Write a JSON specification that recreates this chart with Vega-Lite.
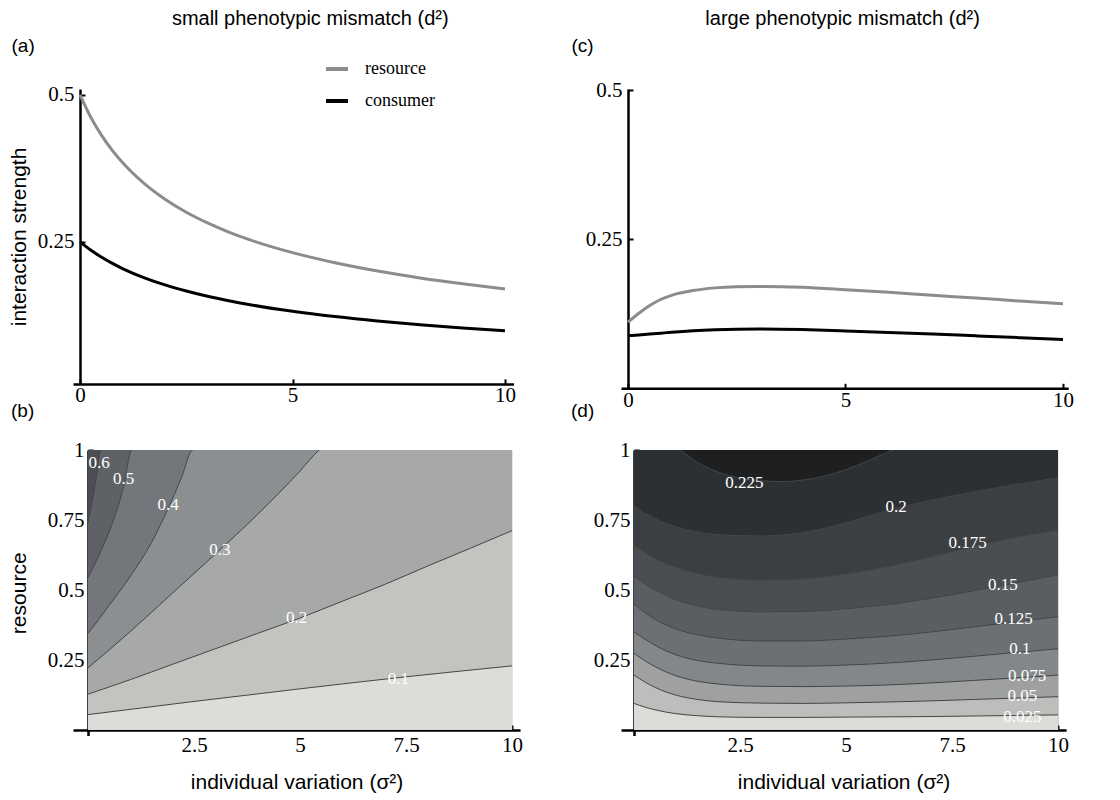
{
  "$schema": "https://vega.github.io/schema/vega-lite/v6.json",
  "background": "white",
  "padding": {"left": 8, "top": 9, "right": 5, "bottom": 5},
  "config": {
    "view": {"stroke": null},
    "font": "Liberation Sans",
    "axis": {
      "grid": false,
      "labelFont": "Liberation Serif",
      "labelFontSize": 21,
      "labelColor": "black",
      "labelFlush": false,
      "labelOverlap": false,
      "labelBound": false,
      "labelExpr": "'' + datum.value",
      "domainColor": "black",
      "domainWidth": 2.5,
      "tickColor": "black",
      "tickWidth": 2,
      "tickSize": -5,
      "titleFont": "Liberation Sans",
      "titleFontSize": 21,
      "titleFontWeight": "normal",
      "titleColor": "black"
    },
    "title": {"font": "Liberation Sans", "fontSize": 19, "fontWeight": "normal", "color": "black"}
  },
  "datasets": {
    "curves_a": [
      {"series": "resource", "x": 0, "y": 0.5},
      {"series": "resource", "x": 0.25, "y": 0.4624},
      {"series": "resource", "x": 0.5, "y": 0.4319},
      {"series": "resource", "x": 0.75, "y": 0.4064},
      {"series": "resource", "x": 1, "y": 0.3848},
      {"series": "resource", "x": 1.5, "y": 0.3498},
      {"series": "resource", "x": 2, "y": 0.3225},
      {"series": "resource", "x": 2.5, "y": 0.3004},
      {"series": "resource", "x": 3, "y": 0.2822},
      {"series": "resource", "x": 3.5, "y": 0.2667},
      {"series": "resource", "x": 4, "y": 0.2534},
      {"series": "resource", "x": 5, "y": 0.2317},
      {"series": "resource", "x": 6, "y": 0.2145},
      {"series": "resource", "x": 7, "y": 0.2004},
      {"series": "resource", "x": 8, "y": 0.1887},
      {"series": "resource", "x": 9, "y": 0.1787},
      {"series": "resource", "x": 10, "y": 0.17},
      {"series": "consumer", "x": 0, "y": 0.25},
      {"series": "consumer", "x": 0.25, "y": 0.2361},
      {"series": "consumer", "x": 0.5, "y": 0.2242},
      {"series": "consumer", "x": 0.75, "y": 0.2138},
      {"series": "consumer", "x": 1, "y": 0.2047},
      {"series": "consumer", "x": 1.5, "y": 0.1893},
      {"series": "consumer", "x": 2, "y": 0.1768},
      {"series": "consumer", "x": 2.5, "y": 0.1664},
      {"series": "consumer", "x": 3, "y": 0.1575},
      {"series": "consumer", "x": 3.5, "y": 0.1499},
      {"series": "consumer", "x": 4, "y": 0.1432},
      {"series": "consumer", "x": 5, "y": 0.132},
      {"series": "consumer", "x": 6, "y": 0.123},
      {"series": "consumer", "x": 7, "y": 0.1155},
      {"series": "consumer", "x": 8, "y": 0.1092},
      {"series": "consumer", "x": 9, "y": 0.1037},
      {"series": "consumer", "x": 10, "y": 0.099}
    ],
    "curves_c": [
      {"series": "resource", "x": 0, "y": 0.111},
      {"series": "resource", "x": 0.25, "y": 0.126},
      {"series": "resource", "x": 0.5, "y": 0.139},
      {"series": "resource", "x": 0.75, "y": 0.149},
      {"series": "resource", "x": 1, "y": 0.156},
      {"series": "resource", "x": 1.5, "y": 0.164},
      {"series": "resource", "x": 2, "y": 0.1685},
      {"series": "resource", "x": 2.5, "y": 0.1705},
      {"series": "resource", "x": 3, "y": 0.171},
      {"series": "resource", "x": 4, "y": 0.1695},
      {"series": "resource", "x": 5, "y": 0.1655},
      {"series": "resource", "x": 6, "y": 0.161},
      {"series": "resource", "x": 7, "y": 0.156},
      {"series": "resource", "x": 8, "y": 0.1515},
      {"series": "resource", "x": 9, "y": 0.1465},
      {"series": "resource", "x": 10, "y": 0.142},
      {"series": "consumer", "x": 0, "y": 0.088},
      {"series": "consumer", "x": 0.25, "y": 0.0895},
      {"series": "consumer", "x": 0.5, "y": 0.091},
      {"series": "consumer", "x": 0.75, "y": 0.0925},
      {"series": "consumer", "x": 1, "y": 0.094},
      {"series": "consumer", "x": 1.5, "y": 0.0965},
      {"series": "consumer", "x": 2, "y": 0.0982},
      {"series": "consumer", "x": 2.5, "y": 0.0992},
      {"series": "consumer", "x": 3, "y": 0.0995},
      {"series": "consumer", "x": 4, "y": 0.0985},
      {"series": "consumer", "x": 5, "y": 0.0963},
      {"series": "consumer", "x": 6, "y": 0.0938},
      {"series": "consumer", "x": 7, "y": 0.091},
      {"series": "consumer", "x": 8, "y": 0.088},
      {"series": "consumer", "x": 9, "y": 0.085},
      {"series": "consumer", "x": 10, "y": 0.082}
    ],
    "contours_b": [
      {"level": "top", "x": 0, "y": 1},
      {"level": "top", "x": 10, "y": 1},
      {"level": "0.6", "x": 0, "y": 0.74},
      {"level": "0.6", "x": 0.1, "y": 0.82},
      {"level": "0.6", "x": 0.2, "y": 0.905},
      {"level": "0.6", "x": 0.3, "y": 1.0},
      {"level": "0.6", "x": 10, "y": 1.3},
      {"level": "0.5", "x": 0, "y": 0.545},
      {"level": "0.5", "x": 0.2, "y": 0.605},
      {"level": "0.5", "x": 0.4, "y": 0.672},
      {"level": "0.5", "x": 0.6, "y": 0.75},
      {"level": "0.5", "x": 0.84, "y": 0.87},
      {"level": "0.5", "x": 1.03, "y": 1.0},
      {"level": "0.5", "x": 10, "y": 1.3},
      {"level": "0.4", "x": 0, "y": 0.345},
      {"level": "0.4", "x": 0.5, "y": 0.445},
      {"level": "0.4", "x": 1, "y": 0.55},
      {"level": "0.4", "x": 1.5, "y": 0.67},
      {"level": "0.4", "x": 1.9, "y": 0.795},
      {"level": "0.4", "x": 2.2, "y": 0.9},
      {"level": "0.4", "x": 2.46, "y": 1.0},
      {"level": "0.4", "x": 10, "y": 1.3},
      {"level": "0.3", "x": 0, "y": 0.222},
      {"level": "0.3", "x": 1, "y": 0.352},
      {"level": "0.3", "x": 2, "y": 0.49},
      {"level": "0.3", "x": 3, "y": 0.628},
      {"level": "0.3", "x": 4, "y": 0.77},
      {"level": "0.3", "x": 5, "y": 0.925},
      {"level": "0.3", "x": 5.45, "y": 1.0},
      {"level": "0.3", "x": 10, "y": 1.3},
      {"level": "0.2", "x": 0, "y": 0.128},
      {"level": "0.2", "x": 1, "y": 0.18},
      {"level": "0.2", "x": 2, "y": 0.235},
      {"level": "0.2", "x": 3, "y": 0.29},
      {"level": "0.2", "x": 4, "y": 0.345},
      {"level": "0.2", "x": 5, "y": 0.4},
      {"level": "0.2", "x": 6, "y": 0.46},
      {"level": "0.2", "x": 7, "y": 0.52},
      {"level": "0.2", "x": 8, "y": 0.585},
      {"level": "0.2", "x": 9, "y": 0.648},
      {"level": "0.2", "x": 10, "y": 0.712},
      {"level": "0.1", "x": 0, "y": 0.055},
      {"level": "0.1", "x": 2.5, "y": 0.102},
      {"level": "0.1", "x": 5, "y": 0.147},
      {"level": "0.1", "x": 7.5, "y": 0.19},
      {"level": "0.1", "x": 10, "y": 0.229}
    ],
    "labels_b": [
      {"text": "0.6", "x": 0.26, "y": 0.952},
      {"text": "0.5", "x": 0.84, "y": 0.895},
      {"text": "0.4", "x": 1.89, "y": 0.804},
      {"text": "0.3", "x": 3.11, "y": 0.643},
      {"text": "0.2", "x": 4.92, "y": 0.401},
      {"text": "0.1", "x": 7.32, "y": 0.181}
    ],
    "contours_d": [
      {"level": "top", "x": 0, "y": 1},
      {"level": "top", "x": 10, "y": 1},
      {"level": "0.225", "x": 0, "y": 1.15},
      {"level": "0.225", "x": 1.1, "y": 1.0},
      {"level": "0.225", "x": 1.5, "y": 0.955},
      {"level": "0.225", "x": 2, "y": 0.92},
      {"level": "0.225", "x": 2.5, "y": 0.9},
      {"level": "0.225", "x": 3, "y": 0.89},
      {"level": "0.225", "x": 3.5, "y": 0.887},
      {"level": "0.225", "x": 4, "y": 0.893},
      {"level": "0.225", "x": 4.5, "y": 0.907},
      {"level": "0.225", "x": 5, "y": 0.93},
      {"level": "0.225", "x": 5.5, "y": 0.96},
      {"level": "0.225", "x": 6.1, "y": 1.0},
      {"level": "0.225", "x": 10, "y": 1.15},
      {"level": "0.2", "x": 0, "y": 0.8},
      {"level": "0.2", "x": 0.25, "y": 0.775},
      {"level": "0.2", "x": 0.5, "y": 0.755},
      {"level": "0.2", "x": 1, "y": 0.725},
      {"level": "0.2", "x": 1.5, "y": 0.707},
      {"level": "0.2", "x": 2, "y": 0.697},
      {"level": "0.2", "x": 3, "y": 0.693},
      {"level": "0.2", "x": 4, "y": 0.705},
      {"level": "0.2", "x": 5, "y": 0.74},
      {"level": "0.2", "x": 6, "y": 0.785},
      {"level": "0.2", "x": 7, "y": 0.82},
      {"level": "0.2", "x": 8, "y": 0.85},
      {"level": "0.2", "x": 9, "y": 0.877},
      {"level": "0.2", "x": 10, "y": 0.9},
      {"level": "0.175", "x": 0, "y": 0.66},
      {"level": "0.175", "x": 0.25, "y": 0.635},
      {"level": "0.175", "x": 0.5, "y": 0.612},
      {"level": "0.175", "x": 1, "y": 0.58},
      {"level": "0.175", "x": 1.5, "y": 0.558},
      {"level": "0.175", "x": 2, "y": 0.545},
      {"level": "0.175", "x": 3, "y": 0.535},
      {"level": "0.175", "x": 4, "y": 0.54},
      {"level": "0.175", "x": 5, "y": 0.557},
      {"level": "0.175", "x": 6, "y": 0.584},
      {"level": "0.175", "x": 7, "y": 0.618},
      {"level": "0.175", "x": 8, "y": 0.655},
      {"level": "0.175", "x": 9, "y": 0.688},
      {"level": "0.175", "x": 10, "y": 0.714},
      {"level": "0.15", "x": 0, "y": 0.55},
      {"level": "0.15", "x": 0.25, "y": 0.522},
      {"level": "0.15", "x": 0.5, "y": 0.5},
      {"level": "0.15", "x": 1, "y": 0.465},
      {"level": "0.15", "x": 1.5, "y": 0.443},
      {"level": "0.15", "x": 2, "y": 0.43},
      {"level": "0.15", "x": 3, "y": 0.422},
      {"level": "0.15", "x": 4, "y": 0.423},
      {"level": "0.15", "x": 5, "y": 0.433},
      {"level": "0.15", "x": 6, "y": 0.448},
      {"level": "0.15", "x": 7, "y": 0.47},
      {"level": "0.15", "x": 8, "y": 0.497},
      {"level": "0.15", "x": 9, "y": 0.525},
      {"level": "0.15", "x": 10, "y": 0.554},
      {"level": "0.125", "x": 0, "y": 0.45},
      {"level": "0.125", "x": 0.25, "y": 0.42},
      {"level": "0.125", "x": 0.5, "y": 0.395},
      {"level": "0.125", "x": 1, "y": 0.36},
      {"level": "0.125", "x": 1.5, "y": 0.34},
      {"level": "0.125", "x": 2, "y": 0.328},
      {"level": "0.125", "x": 3, "y": 0.318},
      {"level": "0.125", "x": 4, "y": 0.318},
      {"level": "0.125", "x": 5, "y": 0.325},
      {"level": "0.125", "x": 6, "y": 0.335},
      {"level": "0.125", "x": 7, "y": 0.35},
      {"level": "0.125", "x": 8, "y": 0.368},
      {"level": "0.125", "x": 9, "y": 0.386},
      {"level": "0.125", "x": 10, "y": 0.405},
      {"level": "0.1", "x": 0, "y": 0.35},
      {"level": "0.1", "x": 0.25, "y": 0.325},
      {"level": "0.1", "x": 0.5, "y": 0.302},
      {"level": "0.1", "x": 1, "y": 0.268},
      {"level": "0.1", "x": 1.5, "y": 0.248},
      {"level": "0.1", "x": 2, "y": 0.238},
      {"level": "0.1", "x": 3, "y": 0.229},
      {"level": "0.1", "x": 4, "y": 0.228},
      {"level": "0.1", "x": 5, "y": 0.232},
      {"level": "0.1", "x": 6, "y": 0.239},
      {"level": "0.1", "x": 7, "y": 0.25},
      {"level": "0.1", "x": 8, "y": 0.263},
      {"level": "0.1", "x": 9, "y": 0.277},
      {"level": "0.1", "x": 10, "y": 0.29},
      {"level": "0.075", "x": 0, "y": 0.274},
      {"level": "0.075", "x": 0.25, "y": 0.248},
      {"level": "0.075", "x": 0.5, "y": 0.226},
      {"level": "0.075", "x": 1, "y": 0.193},
      {"level": "0.075", "x": 1.5, "y": 0.174},
      {"level": "0.075", "x": 2, "y": 0.164},
      {"level": "0.075", "x": 3, "y": 0.156},
      {"level": "0.075", "x": 4, "y": 0.155},
      {"level": "0.075", "x": 5, "y": 0.157},
      {"level": "0.075", "x": 6, "y": 0.161},
      {"level": "0.075", "x": 7, "y": 0.168},
      {"level": "0.075", "x": 8, "y": 0.177},
      {"level": "0.075", "x": 9, "y": 0.186},
      {"level": "0.075", "x": 10, "y": 0.196},
      {"level": "0.05", "x": 0, "y": 0.196},
      {"level": "0.05", "x": 0.25, "y": 0.172},
      {"level": "0.05", "x": 0.5, "y": 0.152},
      {"level": "0.05", "x": 1, "y": 0.124},
      {"level": "0.05", "x": 1.5, "y": 0.109},
      {"level": "0.05", "x": 2, "y": 0.101},
      {"level": "0.05", "x": 3, "y": 0.096},
      {"level": "0.05", "x": 4, "y": 0.095},
      {"level": "0.05", "x": 5, "y": 0.097},
      {"level": "0.05", "x": 6, "y": 0.1},
      {"level": "0.05", "x": 7, "y": 0.104},
      {"level": "0.05", "x": 8, "y": 0.109},
      {"level": "0.05", "x": 9, "y": 0.114},
      {"level": "0.05", "x": 10, "y": 0.119},
      {"level": "0.025", "x": 0, "y": 0.095},
      {"level": "0.025", "x": 0.25, "y": 0.082},
      {"level": "0.025", "x": 0.5, "y": 0.072},
      {"level": "0.025", "x": 1, "y": 0.058},
      {"level": "0.025", "x": 1.5, "y": 0.051},
      {"level": "0.025", "x": 2, "y": 0.047},
      {"level": "0.025", "x": 3, "y": 0.045},
      {"level": "0.025", "x": 4, "y": 0.045},
      {"level": "0.025", "x": 5, "y": 0.046},
      {"level": "0.025", "x": 6, "y": 0.047},
      {"level": "0.025", "x": 7, "y": 0.048},
      {"level": "0.025", "x": 8, "y": 0.05},
      {"level": "0.025", "x": 9, "y": 0.052},
      {"level": "0.025", "x": 10, "y": 0.054}
    ],
    "labels_d": [
      {"text": "0.225", "x": 2.6, "y": 0.881},
      {"text": "0.2", "x": 6.18, "y": 0.798},
      {"text": "0.175", "x": 7.87, "y": 0.667},
      {"text": "0.15", "x": 8.7, "y": 0.518},
      {"text": "0.125", "x": 8.95, "y": 0.395},
      {"text": "0.1", "x": 9.1, "y": 0.288},
      {"text": "0.075", "x": 9.27, "y": 0.193},
      {"text": "0.05", "x": 9.16, "y": 0.12},
      {"text": "0.025", "x": 9.16, "y": 0.045}
    ]
  },
  "resolve": {"scale": {"color": "independent", "fill": "independent"}},
  "columns": 2,
  "bounds": "flush",
  "spacing": {"row": 61, "column": 100},
  "concat": [
    {
      "width": 440.5,
      "height": 294.9,
      "title": {"text": "small phenotypic mismatch (d²)", "anchor": "middle", "frame": "group", "dx": 17, "offset": 7, "fontSize": 20},
      "data": {"name": "curves_a"},
      "resolve": {"axis": {"x": "independent"}},
      "encoding": {
        "y": {"field": "y", "type": "quantitative", "scale": {"domain": [0.0085, 0.51], "nice": false, "zero": false},
              "axis": {"values": [0.25, 0.5], "title": "interaction strength", "offset": -7, "labelPadding": 11, "titleX": -61, "titleBaseline": "middle"}}
      },
      "layer": [
        {
          "mark": {"type": "line", "strokeWidth": 3, "interpolate": "monotone"},
          "encoding": {
            "x": {"field": "x", "type": "quantitative", "scale": {"domain": [-0.165, 10.2], "nice": false, "zero": false},
                  "axis": {"values": [0, 5, 10], "title": null, "labelPadding": 6}},
            "color": {"field": "series", "type": "nominal", "scale": {"domain": ["resource", "consumer"], "range": ["#8c8c8c", "#000000"]},
                      "legend": {"orient": "none", "legendX": 251, "legendY": -33, "title": null, "symbolType": "stroke", "symbolStrokeWidth": 4, "symbolSize": 484, "labelFont": "Liberation Serif", "labelFontSize": 18, "labelColor": "black", "rowPadding": 10, "labelOffset": 15}}
          }
        },
        {
          "mark": {"type": "line", "opacity": 0},
          "encoding": {
            "x": {"field": "x", "type": "quantitative", "scale": {"domain": [-0.165, 10.2], "nice": false, "zero": false},
                  "axis": {"orient": "top", "title": "(a)", "labels": false, "ticks": false, "domain": false, "titleX": -62, "titleY": -44, "titleAlign": "left", "titleAnchor": "start", "titleBaseline": "middle", "titleFontSize": 19}},
            "detail": {"field": "series", "type": "nominal"}
          }
        }
      ]
    },
    {
      "width": 447.2,
      "height": 299.3,
      "title": {"text": "large phenotypic mismatch (d²)", "anchor": "middle", "frame": "group", "dx": -2, "offset": 7, "fontSize": 20},
      "data": {"name": "curves_c"},
      "resolve": {"axis": {"x": "independent"}},
      "encoding": {
        "y": {"field": "y", "type": "quantitative", "scale": {"domain": [0, 0.5022], "nice": false},
              "axis": {"values": [0.25, 0.5], "title": null, "offset": -7, "labelPadding": 11}}
      },
      "layer": [
        {
          "mark": {"type": "line", "strokeWidth": 3, "interpolate": "monotone"},
          "encoding": {
            "x": {"field": "x", "type": "quantitative", "scale": {"domain": [-0.161, 10.12], "nice": false, "zero": false},
                  "axis": {"values": [0, 5, 10], "title": null, "labelPadding": 6}},
            "color": {"field": "series", "type": "nominal", "scale": {"domain": ["resource", "consumer"], "range": ["#8c8c8c", "#000000"]}, "legend": null}
          }
        },
        {
          "mark": {"type": "line", "opacity": 0},
          "encoding": {
            "x": {"field": "x", "type": "quantitative", "scale": {"domain": [-0.161, 10.12], "nice": false, "zero": false},
                  "axis": {"orient": "top", "title": "(c)", "labels": false, "ticks": false, "domain": false, "titleX": -50, "titleY": -44, "titleAlign": "left", "titleAnchor": "start", "titleBaseline": "middle", "titleFontSize": 19}},
            "detail": {"field": "series", "type": "nominal"}
          }
        }
      ]
    },
    {
      "width": 447.1,
      "height": 285.6,
      "title": {"text": "(b)", "anchor": "start", "frame": "group", "dx": -62, "offset": 18},
      "encoding": {
        "x": {"field": "x", "type": "quantitative", "scale": {"domain": [-0.354, 10.19], "nice": false, "zero": false},
              "axis": {"values": [2.5, 5, 7.5, 10], "title": "individual variation (σ²)", "offset": -5.6, "labelPadding": 9, "titleY": 52, "titleBaseline": "middle"}},
        "y": {"field": "y", "type": "quantitative", "stack": null, "scale": {"domain": [-0.02, 1], "nice": false, "zero": false},
              "axis": {"values": [0.25, 0.5, 0.75, 1], "title": "resource", "offset": -15, "labelPadding": 9, "titleX": -69, "titleBaseline": "middle"}}
      },
      "layer": [
        {
          "data": {"name": "contours_b"},
          "mark": {"type": "area", "interpolate": "monotone", "clip": true},
          "encoding": {
            "y2": {"datum": 0},
            "fill": {"field": "level", "type": "nominal", "legend": null,
                     "scale": {"domain": ["top", "0.6", "0.5", "0.4", "0.3", "0.2", "0.1"],
                               "range": ["#4b4f54", "#5e6267", "#73777b", "#8c8f91", "#a7a8a8", "#c3c4c0", "#dcddd8"]}}
          }
        },
        {
          "data": {"name": "contours_b"},
          "transform": [{"filter": "datum.level != 'top'"}],
          "mark": {"type": "line", "interpolate": "monotone", "clip": true, "stroke": "#454545", "strokeWidth": 1},
          "encoding": {"detail": {"field": "level", "type": "nominal"}}
        },
        {
          "data": {"name": "labels_b"},
          "mark": {"type": "text", "font": "Liberation Serif", "fontSize": 17, "fill": "white"},
          "encoding": {"text": {"field": "text", "type": "nominal"}}
        }
      ]
    },
    {
      "width": 445.1,
      "height": 285.6,
      "title": {"text": "(d)", "anchor": "start", "frame": "group", "dx": -50, "offset": 18},
      "encoding": {
        "x": {"field": "x", "type": "quantitative", "scale": {"domain": [-0.307, 10.19], "nice": false, "zero": false},
              "axis": {"values": [2.5, 5, 7.5, 10], "title": "individual variation (σ²)", "offset": -5.6, "labelPadding": 9, "titleY": 52, "titleBaseline": "middle"}},
        "y": {"field": "y", "type": "quantitative", "stack": null, "scale": {"domain": [-0.02, 1], "nice": false, "zero": false},
              "axis": {"values": [0.25, 0.5, 0.75, 1], "title": null, "offset": -13, "labelPadding": 9}}
      },
      "layer": [
        {
          "data": {"name": "contours_d"},
          "mark": {"type": "area", "interpolate": "monotone", "clip": true},
          "encoding": {
            "y2": {"datum": 0},
            "fill": {"field": "level", "type": "nominal", "legend": null,
                     "scale": {"domain": ["top", "0.225", "0.2", "0.175", "0.15", "0.125", "0.1", "0.075", "0.05", "0.025"],
                               "range": ["#1e1f21", "#2d3033", "#3b3e42", "#4a4e53", "#5a5e63", "#6c7075", "#84878a", "#9fa1a1", "#bdbebb", "#dcddd8"]}}
          }
        },
        {
          "data": {"name": "contours_d"},
          "transform": [{"filter": "datum.level != 'top'"}],
          "mark": {"type": "line", "interpolate": "monotone", "clip": true, "stroke": "#454545", "strokeWidth": 1},
          "encoding": {"detail": {"field": "level", "type": "nominal"}}
        },
        {
          "data": {"name": "labels_d"},
          "mark": {"type": "text", "font": "Liberation Serif", "fontSize": 17, "fill": "white"},
          "encoding": {"text": {"field": "text", "type": "nominal"}}
        }
      ]
    }
  ]
}
